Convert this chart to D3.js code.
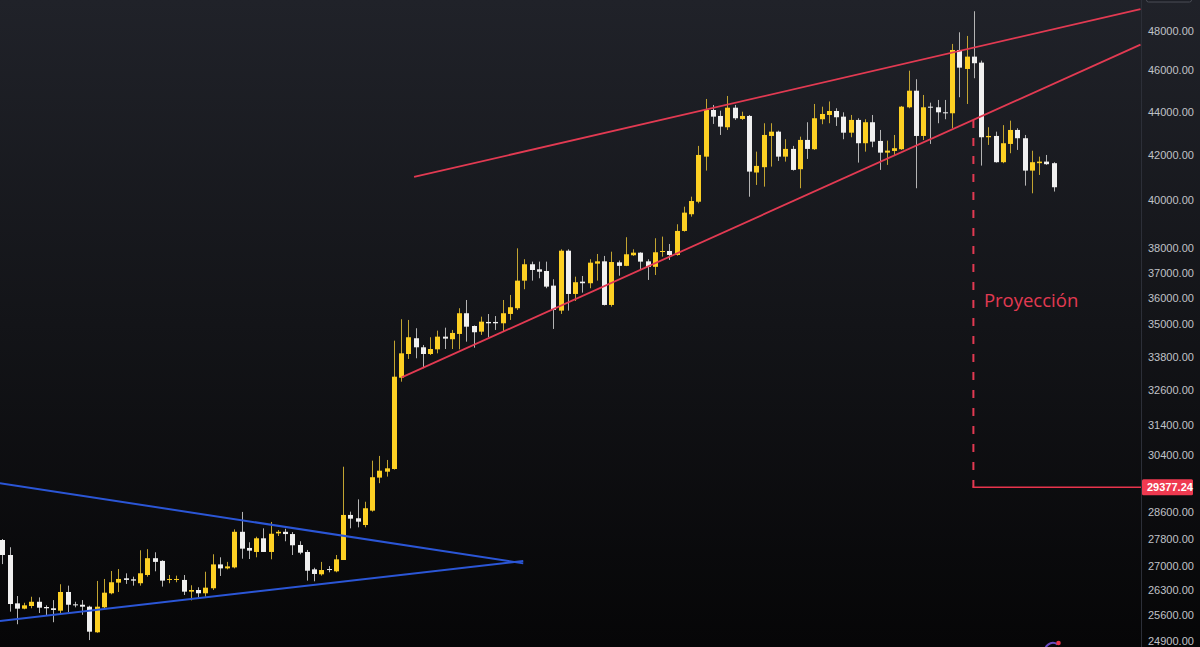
<!DOCTYPE html>
<html><head><meta charset="utf-8">
<script src="https://cdn.jsdelivr.net/npm/d3@7"></script>
<style>html,body{margin:0;padding:0;background:#000;overflow:hidden}</style>
</head><body><svg id="c" width="1200" height="647"></svg>
<script>
// ---- data (daily candles) ----
const open = [
27757,27313,25929,25781,25855,25973,25827,25792,25726,26248,
25901,25890,25836,25134,25819,26211,26513,26637,26608,26496,
26732,27219,27140,26590,26590,26590,26257,26304,26211,26353,
27038,26923,26951,28003,27521,27402,27808,27402,27956,28003,
27935,27609,27402,26894,26751,26903,26837,27166,28515,28414,
28208,28647,29683,29873,29959,33050,33903,34483,34149,33903,
34074,34542,34446,34643,35423,34940,34728,35092,35092,35042,
35396,35614,36686,37339,37137,37069,36490,35523,37887,36165,
36647,36584,37363,37456,35740,37416,37274,37702,37807,37456,
37235,37835,37875,37714,38701,39402,39936,41920,44076,43795,
43266,44186,43654,43795,41211,41447,42863,43061,41920,42270,
41357,42680,42256,43640,43841,44029,43762,43014,43608,42529,
43500,42634,42101,42178,42256,44205,45000,42863,44234,44205,
43967,43921,47015,46065,46680,46380,42803,42863,41670,42497,
43140,42758,41295,41626,41697,41626];
const high = [
27787,27541,26134,25945,26114,26096,25874,26020,26467,26427,
25973,26020,25863,26561,26618,26846,26903,26780,26684,27452,
27485,27393,27160,26732,26713,26732,26438,26381,26826,27334,
27245,27111,28075,28608,27689,27855,28107,28301,28055,28095,
27994,27719,27461,26940,27111,26989,27313,30033,28617,28997,
28923,30229,30383,30252,34394,35194,35168,34855,34234,34520,
34766,34877,34792,35614,35931,34960,35293,35393,35316,35931,
36126,37984,37541,37444,37444,37444,36741,37944,37944,36843,
36871,37541,37754,37674,37847,37488,38440,37944,37823,37541,
38398,38465,38162,38980,39724,40153,42406,44602,44316,44043,
44747,44316,43995,43841,42146,43453,43453,43107,42712,42406,
42831,43500,44363,44234,44483,44158,43967,43841,43687,43640,
43841,43140,42648,42909,44267,45980,45559,44795,44425,44555,
44555,47322,47918,47730,49015,46480,43266,43061,43365,43575,
43219,42909,42187,41920,41996,41670];
const low = [
27047,25699,25353,25764,25792,25660,25580,25408,25640,25688,
25819,25612,24925,25120,25792,26182,26248,26476,26427,26427,
26684,26838,26400,26496,26524,26163,26011,26096,26114,26304,
26704,26894,26923,27204,27195,27245,27402,27186,27876,27719,
27313,27334,26570,26551,26713,26809,26809,27166,28107,28138,
28138,28616,29506,29715,29940,32909,33723,33748,33388,33867,
33928,34086,34086,34074,34356,34134,34606,34520,34792,34728,
35168,35549,36349,36686,36780,36388,34829,35396,35523,35893,
36216,36388,36686,35720,35675,36882,37262,37674,37145,36714,
36910,37645,37512,37686,38672,39300,39869,41295,43421,42909,
43140,43608,43608,40152,40663,40589,41474,41728,41697,41295,
40519,41817,42224,43407,43453,43327,42712,42803,41652,42146,
42347,41326,41550,41996,42224,44158,40519,42680,42497,43453,
43640,43219,44685,44363,45608,41518,42452,41650,41626,42074,
42224,40633,40300,41103,41550,40376];
const close = [
27313,25910,25781,25874,25973,25808,25792,25745,26248,25890,
25882,25836,25151,25836,26228,26524,26618,26590,26570,26781,
27219,27111,26570,26618,26618,26257,26304,26211,26370,27038,
26923,26980,28003,27500,27441,27808,27402,27944,28003,27935,
27600,27381,26855,26761,26875,26875,27186,28515,28401,28309,
28721,29696,29905,29981,33086,33928,34520,34149,33903,34086,
34542,34468,34680,35423,34914,34706,35103,35042,35042,35423,
35652,36686,37339,37109,37040,36451,35549,37887,36165,36624,
36584,37403,37456,35740,37428,37274,37742,37807,37444,37235,
37823,37875,37714,38701,39470,39966,41996,44076,43762,43295,
44186,43687,43795,41251,41504,42909,43061,41920,42270,41326,
42680,42270,43687,43888,44029,43734,43014,43608,42529,43500,
42602,42101,42192,42302,44234,45000,42863,44205,44186,43967,
43921,47015,46130,46680,46350,42803,42863,41670,42529,43140,
42758,41295,41670,41697,41581,40563];

const tickValues = [48000,46000,44000,42000,40000,38000,37000,36000,35000,33800,32600,31400,30400,28600,27800,27000,26300,25600,24900];
const projectionTarget = 29377.24;
const projectionLabel = "Proyección";

// drawings, in (candle index, price)
const blueLines = [
  [[-0.32, 29505], [71.86, 27068]],
  [[-0.32, 25444], [71.86, 27136]]
];
const redLines = [
  [[55.09, 33063], [157, 47286]],
  [[56.8, 41013], [157, 49128]]
];
const projectionStart = [133.95, 43600];
const projectionTextAt = [135.4, 35664];

// ---- chart ----
const W = 1200, H = 647, plotRight = 1141;
const svg = d3.select('#c');
const defs = svg.append('defs');
const bg = defs.append('linearGradient').attr('id','bg').attr('x1',0).attr('y1',0).attr('x2',0).attr('y2',1);
bg.append('stop').attr('offset','0%').attr('stop-color','#202229');
bg.append('stop').attr('offset','50%').attr('stop-color','#131418');
bg.append('stop').attr('offset','100%').attr('stop-color','#060607');
defs.append('clipPath').attr('id','plot').append('rect').attr('x',0).attr('y',0).attr('width',plotRight).attr('height',H);

svg.append('rect').attr('width',W).attr('height',H).attr('fill','url(#bg)');

const x = d3.scaleLinear().domain([0,145]).range([2.3,1053.5]);
const y = d3.scaleLog().domain([24900,48000]).range([641,30.7]);

const plot = svg.append('g').attr('clip-path','url(#plot)');

const idx = d3.range(open.length);
const YEL = '#fdd023', WHT = '#f0f0f0';
const cg = plot.append('g');
cg.selectAll('line.w').data(idx).join('line').attr('class','w')
  .attr('x1', i => Math.round(x(i)) + 0.5).attr('x2', i => Math.round(x(i)) + 0.5)
  .attr('y1', i => y(high[i])).attr('y2', i => y(low[i]))
  .attr('stroke', i => close[i] >= open[i] ? '#c2a431' : '#b4b4b4').attr('stroke-width', 1);
cg.selectAll('rect.b').data(idx).join('rect').attr('class','b')
  .attr('x', i => Math.round(x(i)) - 2).attr('width', 5)
  .attr('y', i => y(Math.max(open[i], close[i])))
  .attr('height', i => Math.max(1, Math.abs(y(open[i]) - y(close[i]))))
  .attr('fill', i => close[i] >= open[i] ? YEL : WHT);

const lineGen = d3.line().x(d => x(d[0])).y(d => y(d[1]));
plot.selectAll('path.blue').data(blueLines).join('path').attr('class','blue')
  .attr('d', lineGen).attr('fill','none').attr('stroke','#2b56d6').attr('stroke-width',2);
plot.selectAll('path.red').data(redLines).join('path').attr('class','red')
  .attr('d', lineGen).attr('fill','none').attr('stroke','#e23a52').attr('stroke-width',1.8);

// projection
plot.append('line')
  .attr('x1', x(projectionStart[0])).attr('x2', x(projectionStart[0]))
  .attr('y1', y(projectionStart[1])).attr('y2', y(projectionTarget))
  .attr('stroke','#e23a52').attr('stroke-width',2).attr('stroke-dasharray','8,10');
plot.append('line')
  .attr('x1', x(projectionStart[0]) - 1).attr('x2', plotRight)
  .attr('y1', y(projectionTarget)).attr('y2', y(projectionTarget))
  .attr('stroke','#e8344c').attr('stroke-width',1.5);
plot.append('text').attr('x', x(projectionTextAt[0])).attr('y', y(projectionTextAt[1]))
  .attr('fill','#e23a52').attr('font-family','"Open Sans", "Noto Sans", sans-serif')
  .attr('font-size', 18.5).text(projectionLabel);

// logo fragment
svg.append('path').attr('d', d3.arc()({innerRadius:7, outerRadius:9, startAngle:-1.9, endAngle:0.6}))
  .attr('transform','translate(1053,651)').attr('fill','#6a4cc0');
svg.append('circle').attr('cx',1058.5).attr('cy',643).attr('r',2.3).attr('fill','#e8344a');

// price axis panel
const ax = svg.append('g');
ax.append('rect').attr('x',plotRight).attr('y',0).attr('width',W-plotRight).attr('height',H).attr('fill','url(#bg)');
ax.append('line').attr('x1',plotRight+0.5).attr('x2',plotRight+0.5).attr('y1',0).attr('y2',H).attr('stroke','#2c2f38');
ax.append('rect').attr('x',1146.5).attr('y',-14).attr('width',45).attr('height',16).attr('rx',2)
  .attr('fill','#1c1e25').attr('stroke','#4a4d56');

const axis = d3.axisRight(y).tickValues(tickValues).tickFormat(d => d.toFixed(2)).tickSize(0).tickPadding(0);
const axG = svg.append('g').attr('transform','translate(1148,0)').call(axis);
axG.select('.domain').remove();
axG.selectAll('text').attr('fill','#c0c2c8').attr('font-family','"Liberation Sans", Arial, sans-serif').attr('font-size',11);

// projection price label
const py = y(projectionTarget);
svg.append('rect').attr('x',1142).attr('y',py-8).attr('width',51).attr('height',16).attr('rx',1.5).attr('fill','#ef3a50');
svg.append('text').attr('x',1147).attr('y',py).attr('dy','0.35em').attr('fill','#ffffff')
  .attr('font-family','"Liberation Sans", Arial, sans-serif').attr('font-size',11).attr('font-weight','bold')
  .text(projectionTarget.toFixed(2));
</script></body></html>
